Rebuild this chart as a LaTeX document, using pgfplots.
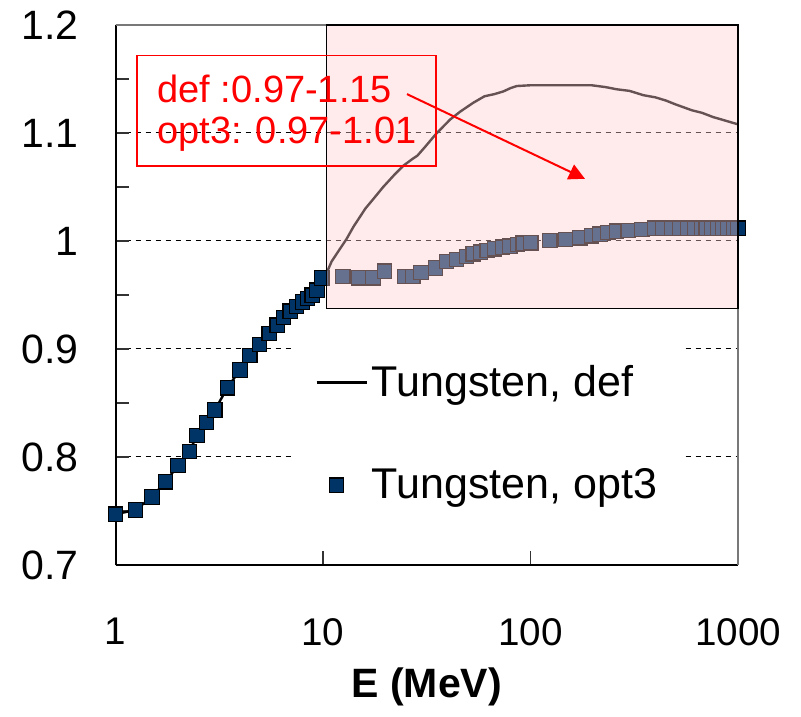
\documentclass[border=0pt]{standalone}
\usepackage{pgfplots}
\pgfplotsset{compat=1.18}
\usepackage{fontspec}
\setmainfont{Liberation Sans}
\usetikzlibrary{arrows.meta}
\definecolor{navy}{RGB}{0,51,102}
\definecolor{pinkfill}{RGB}{255,205,205}
\definecolor{framegray}{RGB}{120,120,120}
\pgfplotsset{
  leglineimg/.style={legend image code/.code={\draw[##1] (0pt,0pt) -- (25pt,0pt);}},
  legmarkimg/.style={legend image code/.code={\draw[##1] plot coordinates {(10pt,0pt)};}},
}

\pgfplotstableread{
x y
1.0 0.747
1.25 0.751
1.5 0.763
1.74 0.777
2.0 0.792
2.27 0.805
2.47 0.820
2.75 0.832
3.01 0.8435
3.46 0.864
3.98 0.8806
4.44 0.8938
4.94 0.904
5.5 0.9145
6.02 0.922
6.46 0.929
6.95 0.935
7.46 0.9394
7.98 0.9436
8.43 0.9467
8.88 0.9498
9.35 0.9544
9.86 0.9657
12.45 0.9673
14.8 0.966
17.4 0.966
19.8 0.972
24.7 0.967
27.1 0.967
29.7 0.9707
34.9 0.975
39.3 0.981
43.9 0.9827
49.1 0.9857
52.9 0.9882
57.3 0.9897
61.8 0.9912
67.2 0.9928
73.2 0.9943
79.5 0.9952
86.5 0.9968
92.2 0.998
100.4 0.9983
124 1.0005
147.6 1.0014
173 1.003
197 1.0048
216 1.0063
235.6 1.0078
260 1.009
296 1.0097
343.6 1.0106
398 1.0118
434 1.0118
477 1.0118
523 1.0118
573 1.0118
618 1.0118
667 1.0118
703 1.0118
749 1.0118
798 1.0118
843 1.0118
888 1.0118
954 1.0118
1000 1.0118
}\optdata

\pgfplotstableread{
x y
1.0 0.747
1.25 0.751
1.5 0.763
1.74 0.777
2.0 0.792
2.27 0.805
2.47 0.820
2.75 0.832
3.01 0.8435
3.46 0.864
3.98 0.8806
4.44 0.8938
4.94 0.904
5.5 0.9145
6.02 0.922
6.46 0.929
6.95 0.935
7.46 0.9394
7.98 0.9436
8.43 0.9467
8.88 0.9498
9.35 0.9544
9.86 0.9657
10.5 0.972
11 0.981
12 0.992
13 1.002
14 1.013
16 1.030
17.5 1.039
19.5 1.050
22 1.061
24.5 1.070
27 1.076
28.5 1.079
31 1.087
35 1.099
41 1.1125
46 1.120
53 1.128
60 1.134
67 1.136
74 1.1385
80 1.1415
86 1.1435
100 1.1442
150 1.1442
197 1.1442
230 1.1425
260 1.1405
300 1.139
350 1.135
400 1.133
450 1.130
500 1.1265
600 1.121
670 1.1187
760 1.1147
850 1.112
1000 1.108
}\defdata

\begin{document}
\begin{tikzpicture}
\begin{axis}[
  set layers,
  scale only axis, width=311.25pt, height=270pt,
  xmode=log, xmin=1, xmax=1000, ymin=0.7, ymax=1.2,
  axis x line*=bottom, axis y line*=left,
  axis line style={black, line width=1pt},
  xtick={1,10,100,1000}, xticklabels={1,10,100,1000},
  xminorticks=false,
  ytick={0.7,0.8,0.9,1.0,1.1,1.2},
  yticklabels={0.7,0.8,0.9,1,1.1,1.2},
  minor ytick={0.75,0.85,0.95,1.05,1.15},
  ymajorgrids,
  major grid style={black, line width=0.5pt, dash pattern=on 2.5pt off 2.5pt},
  tick align=inside, major tick length=7pt, minor tick length=7pt,
  tick style={black!80, line width=0.6pt},
  /pgf/number format/assume math mode=true,
  xticklabel style={font=\fontsize{19.3}{23}\selectfont, yshift=-23pt},
  yticklabel style={font=\fontsize{20.5}{24}\selectfont, xshift=-15pt},
  xlabel={\bfseries E (MeV)},
  xlabel style={font=\fontsize{20.5}{24}\selectfont, at={(rel axis cs:0.5,0)}, anchor=north, yshift=-48pt},
  legend style={draw=none, fill=white, at={(rel axis cs:0.285,0.411)}, anchor=north west,
    font=\fontsize{21.5}{25}\selectfont, row sep=30.5pt, inner xsep=11pt, inner ysep=9pt},
  legend cell align=left,
]
\addplot[black, line width=1.2pt, mark=none, leglineimg] table[x=x,y=y] {\defdata};
\addlegendentry{Tungsten, def}
\addplot[only marks, mark=square*, mark size=3.6pt,
  mark options={fill=navy, draw=black, line width=0.6pt}, legmarkimg] table[x=x,y=y] {\optdata};
\addlegendentry{Tungsten, opt3}

\begin{pgfonlayer}{axis foreground}
\draw[framegray, line width=1pt] (rel axis cs:0,1) -- (rel axis cs:1,1) -- (rel axis cs:1,0);
\fill[pinkfill, opacity=0.4] (axis cs:10.4,0.9375) rectangle (axis cs:1000,1.2);
\draw[black, line width=0.8pt] (axis cs:10.4,0.9375) rectangle (axis cs:1000,1.2);
\draw[red, line width=0.8pt] (axis cs:1.269,1.0696) rectangle (axis cs:35.05,1.1719);
\node[red, anchor=west, inner sep=0pt, font=\fontsize{19}{22}\selectfont] at (axis cs:1.585,1.1406) {def :0.97-1.15};
\node[red, anchor=west, inner sep=0pt, font=\fontsize{19}{22}\selectfont] at (axis cs:1.585,1.099) {opt3: 0.97-1.01};
\draw[red, line width=1pt, -{Triangle[length=8pt,width=8pt]}] (axis cs:25.4,1.136) -- (axis cs:183,1.0576);
\end{pgfonlayer}
\end{axis}
\pgfresetboundingbox
\path[use as bounding box] (current axis.south west) ++(-57.75pt,-75.5pt) rectangle ([shift={(31.5pt,12.5pt)}]current axis.north east);
\end{tikzpicture}
\end{document}
